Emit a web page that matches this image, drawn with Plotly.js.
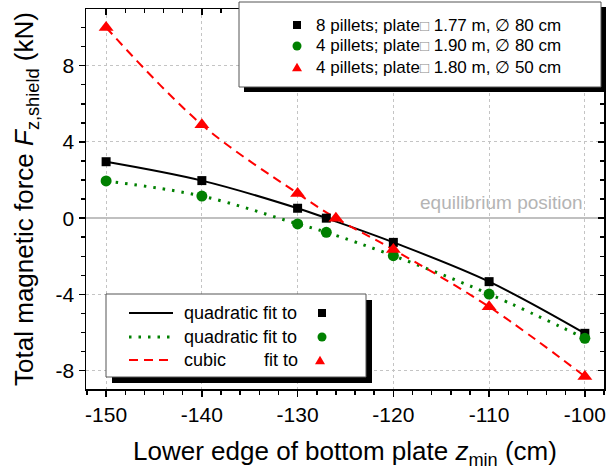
<!DOCTYPE html>
<html>
<head>
<meta charset="utf-8">
<script src="https://cdn.plot.ly/plotly-3.0.1.min.js"></script>
<style>html,body{margin:0;padding:0;background:#fff;}#chart{width:608px;height:474px;}</style>
</head>
<body>
<div id="chart"></div>
<script>
// ---- data ----
const zBlack = [-150, -140, -130, -127, -120, -110, -100];
const fBlack = [2.96, 1.97, 0.52, 0.0, -1.27, -3.33, -6.04];
const zGreen = [-150, -140, -130, -127, -120, -110, -100];
const fGreen = [1.95, 1.16, -0.30, -0.74, -1.97, -3.98, -6.30];
const zRed = [-150, -140, -130, -126, -120, -110, -100];
const fRed = [10.0, 4.9, 1.3, 0.0, -1.65, -4.65, -8.3];

const xTickVals = [-150, -140, -130, -120, -110, -100];
const xTickText = ['-150', '-140', '-130', '-120', '-110', '-100'];
const yTickVals = [-8, -4, 0, 4, 8];
const yTickText = ['-8', '-4', '0', '4', '8'];

const BOXGLYPH = '<span style="font-size:15px;color:#888">□</span>';
const seriesLabels = [
  '8 pillets; plate' + BOXGLYPH + ' 1.77 m, ∅ 80 cm',
  '4 pillets; plate' + BOXGLYPH + ' 1.90 m, ∅ 80 cm',
  '4 pillets; plate' + BOXGLYPH + ' 1.80 m, ∅ 50 cm'
];
const fitLabels = ['quadratic fit to', 'quadratic fit to', 'cubic'];

// ---- geometry helpers (pixel -> paper) ----
const W = 608, H = 474;
const mL = 86, mR = 4, mT = 9, mB = 85;
const pw = W - mL - mR, ph = H - mT - mB;
const px = x => (x - mL) / pw;
const py = y => (H - mB - y) / ph;

const FONT = 'Liberation Sans, Arial, Helvetica, sans-serif';
const BLACK = '#000000', GREEN = '#008000', RED = '#ff0000';
const DOTS = '2.5px,7px', DASHES = '9px,6px';

const traces = [
  {x: zGreen, y: fGreen, mode: 'lines', line: {color: GREEN, width: 3, dash: DOTS, shape: 'spline', smoothing: 1}, hoverinfo: 'skip'},
  {x: zBlack, y: fBlack, mode: 'lines', line: {color: BLACK, width: 2, shape: 'spline', smoothing: 1}, hoverinfo: 'skip'},
  {x: zRed, y: fRed, mode: 'lines', line: {color: RED, width: 2, dash: DASHES, shape: 'spline', smoothing: 1}, hoverinfo: 'skip'},
  {x: zBlack, y: fBlack, mode: 'markers', marker: {symbol: 'square', size: 9, color: BLACK}},
  {x: zGreen, y: fGreen, mode: 'markers', marker: {symbol: 'circle', size: 11, color: GREEN}},
  {x: zRed, y: fRed, mode: 'markers', marker: {symbol: 'triangle-up', size: 13, color: RED}},
  // invisible trace that carries the mirrored (inside-tick) axes
  {x: [zBlack[0]], y: [fBlack[0]], xaxis: 'x2', yaxis: 'y2', mode: 'markers', marker: {opacity: 0}, hoverinfo: 'skip'}
];

const xRange = [-152.1, -98.0];
const yRange = [-8.96, 10.97];

const shapes = [];
const annotations = [];

function box(x0, y0, x1, y1, off) {
  shapes.push({type: 'rect', xref: 'paper', yref: 'paper', x0: px(x0 + off), x1: px(x1 + off), y0: py(y1 + off), y1: py(y0 + off),
    fillcolor: '#000', line: {width: 0}});
  shapes.push({type: 'rect', xref: 'paper', yref: 'paper', x0: px(x0), x1: px(x1), y0: py(y1), y1: py(y0),
    fillcolor: '#fff', line: {color: '#555', width: 1}});
}
box(239, 2, 601, 87, 5);
box(106, 294, 366, 377, 6);

function sq(cx, cy, s, c) {
  shapes.push({type: 'rect', xref: 'paper', yref: 'paper', x0: px(cx - s/2), x1: px(cx + s/2), y0: py(cy + s/2), y1: py(cy - s/2), fillcolor: c, line: {width: 0}});
}
function circ(cx, cy, r, c) {
  shapes.push({type: 'circle', xref: 'paper', yref: 'paper', x0: px(cx - r), x1: px(cx + r), y0: py(cy + r), y1: py(cy - r), fillcolor: c, line: {width: 0}});
}
function tri(cx, cy, s, c) {
  const h = s * 0.87;
  const p = `M ${px(cx - s/2)} ${py(cy + h/2)} L ${px(cx + s/2)} ${py(cy + h/2)} L ${px(cx)} ${py(cy - h/2)} Z`;
  shapes.push({type: 'path', xref: 'paper', yref: 'paper', path: p, fillcolor: c, line: {width: 0}});
}
const topRows = [25, 46, 67];
sq(297, topRows[0], 8, BLACK);
circ(297, topRows[1], 4.5, GREEN);
tri(297, topRows[2], 10, RED);
seriesLabels.forEach((t, i) => annotations.push({xref: 'paper', yref: 'paper', x: px(314), y: py(topRows[i]), xanchor: 'left', yanchor: 'middle',
  text: t, showarrow: false, font: {family: FONT, size: 17, color: '#000'}}));

const botRows = [313, 337, 360];
function seg(y, color, dash, width) {
  shapes.push({type: 'line', xref: 'paper', yref: 'paper', x0: px(129), x1: px(173), y0: py(y), y1: py(y), line: {color: color, width: width, dash: dash}});
}
seg(botRows[0], BLACK, 'solid', 2);
seg(botRows[1], GREEN, DOTS, 3);
seg(botRows[2], RED, DASHES, 2);
fitLabels.forEach((t, i) => annotations.push({xref: 'paper', yref: 'paper', x: px(182), y: py(botRows[i]), xanchor: 'left', yanchor: 'middle',
  text: t, showarrow: false, font: {family: FONT, size: 18, color: '#000'}}));
annotations.push({xref: 'paper', yref: 'paper', x: px(262), y: py(botRows[2]), xanchor: 'left', yanchor: 'middle',
  text: 'fit to', showarrow: false, font: {family: FONT, size: 18, color: '#000'}});
sq(322, botRows[0], 8, BLACK);
circ(322, botRows[1], 4.5, GREEN);
tri(320, botRows[2], 10, RED);

annotations.push({xref: 'paper', yref: 'paper', x: px(585), y: py(202), xanchor: 'right', yanchor: 'middle',
  text: 'equilibrium position', showarrow: false, font: {family: FONT, size: 19, color: '#b4b4b4'}});

const axisCommon = {
  showline: true, linecolor: '#000', linewidth: 1.5, mirror: true,
  ticks: 'outside', ticklen: 6, tickwidth: 1.5, tickcolor: '#000',
  showgrid: true, gridcolor: '#c4c4c4', gridwidth: 1, griddash: 'dot',
  tickfont: {family: FONT, size: 21, color: '#000'},
  tickmode: 'array', fixedrange: true
};

const layout = {
  width: W, height: H,
  margin: {l: mL, r: mR, t: mT, b: mB, pad: 0},
  paper_bgcolor: '#fff', plot_bgcolor: '#fff',
  showlegend: false,
  font: {family: FONT, color: '#000'},
  xaxis: Object.assign({}, axisCommon, {
    range: xRange, tickvals: xTickVals, ticktext: xTickText, zeroline: false,
    minor: {dtick: 2, tick0: -150, ticks: 'outside', ticklen: 4, tickwidth: 1.5, tickcolor: '#000', showgrid: false},
    title: {text: 'Lower edge of bottom plate <i>z</i><sub>min</sub> (cm)', font: {family: FONT, size: 26, color: '#000'}, standoff: 17},
    automargin: false
  }),
  yaxis: Object.assign({}, axisCommon, {
    range: yRange, tickvals: yTickVals, ticktext: yTickText,
    zeroline: true, zerolinecolor: '#c0c0c0', zerolinewidth: 2,
    minor: {dtick: 1, tick0: 0, ticks: 'outside', ticklen: 4, tickwidth: 1.5, tickcolor: '#000', showgrid: false},
    title: {text: 'Total magnetic force <i>F</i><sub>z,shield</sub> (kN)', font: {family: FONT, size: 26, color: '#000'}, standoff: 14},
    automargin: false
  }),
  xaxis2: {overlaying: 'x', side: 'top', range: xRange, showticklabels: false, showgrid: false, zeroline: false, showline: false,
    tickmode: 'array', tickvals: xTickVals, ticks: 'inside', ticklen: 6, tickwidth: 1.5, tickcolor: '#000',
    minor: {dtick: 2, tick0: -150, ticks: 'inside', ticklen: 4, tickwidth: 1.5, tickcolor: '#000', showgrid: false}, fixedrange: true},
  yaxis2: {overlaying: 'y', side: 'right', range: yRange, showticklabels: false, showgrid: false, zeroline: false, showline: false,
    tickmode: 'array', tickvals: yTickVals, ticks: 'inside', ticklen: 6, tickwidth: 1.5, tickcolor: '#000',
    minor: {dtick: 1, tick0: 0, ticks: 'inside', ticklen: 4, tickwidth: 1.5, tickcolor: '#000', showgrid: false}, fixedrange: true},
  shapes: shapes,
  annotations: annotations
};

Plotly.newPlot('chart', traces, layout, {staticPlot: true, displayModeBar: false});
</script>
</body>
</html>
